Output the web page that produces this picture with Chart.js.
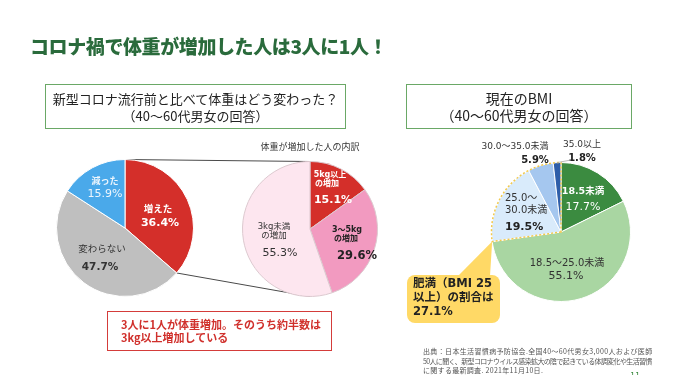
<!DOCTYPE html>
<html><head><meta charset="utf-8">
<script src="https://cdn.jsdelivr.net/npm/chart.js@4.4.1/dist/chart.umd.min.js"></script>
<style>
html,body{margin:0;padding:0;background:#fff;}
#page{position:relative;width:680px;height:375px;overflow:hidden;font-family:"Noto Sans CJK JP",sans-serif;}
.abs{position:absolute;}
canvas.abs{display:block;}
#title{left:30px;top:32px;font-size:19px;font-weight:900;color:#2a6b3c;white-space:nowrap;letter-spacing:-0.4px;}
.qbox{border:1.5px solid #6aa866;box-sizing:border-box;text-align:center;color:#222;font-size:13px;line-height:17px;padding-top:5px;}
#box1{left:45px;top:84px;width:301px;height:45px;}
#box2{left:406px;top:84px;width:226px;height:45px;font-size:14px;}
#sub2{left:230px;top:140px;width:160px;text-align:center;font-size:9px;color:#333;}
#redbox{left:107px;top:311px;width:225px;height:40px;border:1.5px solid #d43c3a;box-sizing:border-box;color:#d0302c;font-weight:bold;font-size:11px;line-height:13px;padding:6px 0 0 13px;}
#src{left:423px;top:347px;font-size:7px;line-height:9.6px;color:#555;white-space:nowrap;}
#src span{display:block;}
#pg{left:630px;top:369px;font-size:9px;color:#3a8a3f;}
</style></head>
<body><div id="page">
<canvas id="bg" class="abs" width="680" height="375" style="left:0;top:0;z-index:0"></canvas>
<div id="title" class="abs">コロナ禍で体重が増加した人は3人に1人！</div>
<div id="box1" class="abs qbox">新型コロナ流行前と比べて体重はどう変わった？<br>（40～60代男女の回答）</div>
<div id="box2" class="abs qbox">現在のBMI<br>（40～60代男女の回答）</div>
<div id="sub2" class="abs">体重が増加した人の内訳</div>
<canvas id="c1" class="abs" width="200" height="170" style="left:40px;top:140px;z-index:1"></canvas>
<canvas id="c2" class="abs" width="160" height="170" style="left:230px;top:135px;z-index:1"></canvas>
<canvas id="c3" class="abs" width="200" height="175" style="left:460px;top:135px;z-index:1"></canvas>
<canvas id="ov" class="abs" width="680" height="375" style="left:0;top:0;z-index:2;pointer-events:none"></canvas>
<div id="redbox" class="abs" style="z-index:3">3人に1人が体重増加。そのうち約半数は<br>3kg以上増加している</div>
<div id="src" class="abs"><span style="letter-spacing:0.35px">出典：日本生活習慣病予防協会.全国40～60代男女3,000人および医師</span><span style="letter-spacing:-0.65px">50人に聞く、新型コロナウイルス感染拡大の陰で起きている体調変化や生活習慣</span><span style="letter-spacing:0.3px">に関する最新調査. 2021年11月10日.</span></div>
<div id="pg" class="abs">11</div>
</div>
<script>
// ---- data ----
const changeLabels = ['増えた', '変わらない', '減った'];
const changeValues = [36.4, 47.7, 15.9];
const gainLabels = ['5kg以上\nの増加', '3～5kg\nの増加', '3kg未満\nの増加'];
const gainValues = [15.1, 29.6, 55.3];
const bmiLabels = ['18.5未満', '18.5～25.0未満', '25.0～\n30.0未満', '30.0～35.0未満', '35.0以上'];
const bmiValues = [17.7, 55.1, 19.5, 5.9, 1.8];
const obeseShare = 27.1;

// ---- styles / layout ----
const F = '"DejaVu Sans", "Noto Sans CJK JP", sans-serif';
const W = '#ffffff', D = '#222222', G = '#333333';
// per slice: list of [dx, dy, font, color, align] relative to pie centre, one per text line
const layout1 = [
  [[33, -18, 'bold 9.5px', W], [35, -5, 'bold 11px', W]],
  [[-23, 22, '9.5px', G], [-25, 39, 'bold 10.5px', G]],
  [[-20, -46, 'bold 9px', '#eef6fd'], [-20, -34, '11px', '#eef6fd']]
];
const layout2 = [
  [[20, -54, 'bold 8px', W], [17, -45, 'bold 8px', W], [23, -29, 'bold 11px', W]],
  [[37, 1, 'bold 8px', D], [36, 10, 'bold 8px', D], [47, 27, 'bold 11.5px', D]],
  [[-36, -2, '8.5px', G], [-36, 7, '8.5px', G], [-30, 24, '11px', G]]
];
const layout3 = [
  [[22, -40, 'bold 9.5px', W], [22, -25, '11px', W]],
  [[6, 31, '10px', G], [5, 44, '11px', G]],
  [[-56, -34, '10px', G, 'left'], [-56, -22, '10px', G, 'left'], [-56, -5, 'bold 11px', D, 'left']],
  [[-46, -85, '9px', G], [-26, -72, 'bold 10px', D]],
  [[21, -87, '9px', G], [21, -74, 'bold 10px', D]]
];

const labelPlugin = {
  id: 'sliceText',
  afterDatasetsDraw(chart, args, opts) {
    const ctx = chart.ctx;
    const meta = chart.getDatasetMeta(0);
    const labels = chart.data.labels;
    const vals = chart.data.datasets[0].data;
    ctx.save();
    ctx.textBaseline = 'middle';
    meta.data.forEach((arc, i) => {
      const lines = labels[i].split('\n').concat([vals[i].toFixed(1) + '%']);
      const lay = opts.layout[i];
      lines.forEach((t, j) => {
        const l = lay[j];
        ctx.font = l[2] + ' ' + F;
        ctx.fillStyle = l[3];
        ctx.textAlign = l[4] || 'center';
        ctx.fillText(t, arc.x + l[0], arc.y + l[1]);
      });
    });
    ctx.restore();
  }
};

const obesePlugin = {
  id: 'obeseOutline',
  afterDatasetsDraw(chart, args, opts) {
    if (!opts.enabled) return;
    const ctx = chart.ctx;
    const d = chart.getDatasetMeta(0).data;
    const a0 = d[2], a4 = d[4];
    const r = a0.outerRadius;
    ctx.save();
    ctx.strokeStyle = '#f2c94c';
    ctx.lineWidth = 1.5;
    ctx.setLineDash([2, 2]);
    ctx.beginPath();
    ctx.moveTo(a0.x, a0.y);
    ctx.lineTo(a0.x + r * Math.cos(a0.startAngle), a0.y + r * Math.sin(a0.startAngle));
    ctx.arc(a0.x, a0.y, r, a0.startAngle, a4.endAngle);
    ctx.closePath();
    ctx.stroke();
    // leader line for smallest slice
    ctx.setLineDash([]);
    ctx.strokeStyle = '#aaaaaa';
    ctx.lineWidth = 0.8;
    const mid = (a4.startAngle + a4.endAngle) / 2;
    ctx.beginPath();
    ctx.moveTo(a4.x + r * Math.cos(mid), a4.y + r * Math.sin(mid));
    ctx.lineTo(a4.x + 10, a4.y - 72);
    ctx.stroke();
    ctx.restore();
  }
};

function pie(id, labels, values, colors, border, pad, layout, obese) {
  return new Chart(document.getElementById(id), {
    type: 'pie',
    data: { labels: labels, datasets: [{ data: values, backgroundColor: colors, borderColor: border, borderWidth: 1 }] },
    options: {
      responsive: false, animation: false, events: [],
      layout: { padding: pad },
      plugins: { legend: { display: false }, tooltip: { enabled: false }, sliceText: { layout: layout }, obeseOutline: { enabled: !!obese } }
    },
    plugins: [labelPlugin, obesePlugin]
  });
}

const ch1 = pie('c1', changeLabels, changeValues, ['#d42f2a', '#bfbfbf', '#4aa9ea'], '#ffffff',
  { left: 16, right: 46, top: 19, bottom: 13 }, layout1, false);
const ch2 = pie('c2', gainLabels, gainValues, ['#d42f2a', '#f29ac0', '#fde6ef'], '#dcc9cf',
  { left: 12, right: 12, top: 26, bottom: 8 }, layout2, false);
const ch3 = pie('c3', bmiLabels, bmiValues, ['#3b8b40', '#a9d6a2', '#d9ebfb', '#a5c7ef', '#2e5ea9'], '#ffffff',
  { left: 31, right: 29, top: 27, bottom: 8 }, layout3, true);

// page-coordinate helper
function pagePt(chart, canvasId, angle) {
  const c = document.getElementById(canvasId);
  const a = chart.getDatasetMeta(0).data[0];
  const r = a.outerRadius;
  return [a.x + r * Math.cos(angle) + c.offsetLeft, a.y + r * Math.sin(angle) + c.offsetTop, r];
}

// connector lines from "増えた" slice to breakdown pie
(function () {
  const ctx = document.getElementById('bg').getContext('2d');
  const s = ch1.getDatasetMeta(0).data[0];
  const p1 = pagePt(ch1, 'c1', s.startAngle);
  const p2 = pagePt(ch1, 'c1', s.endAngle);
  const q1 = pagePt(ch2, 'c2', -Math.PI / 2);
  const q2 = pagePt(ch2, 'c2', Math.PI / 2);
  ctx.strokeStyle = '#4a4a4a';
  ctx.lineWidth = 1;
  ctx.beginPath();
  ctx.moveTo(p1[0], p1[1]); ctx.lineTo(q1[0], q1[1]);
  ctx.moveTo(p2[0], p2[1]); ctx.lineTo(q2[0], q2[1]);
  ctx.stroke();
})();

// callout for obesity share
(function () {
  const ctx = document.getElementById('ov').getContext('2d');
  const s = ch3.getDatasetMeta(0).data[2];
  const tip = pagePt(ch3, 'c3', s.startAngle);
  const bx = 407, by = 275, bw = 93, bh = 48, rr = 8;
  ctx.fillStyle = '#ffd966';
  ctx.beginPath();
  ctx.roundRect(bx, by, bw, bh, rr);
  ctx.fill();
  ctx.beginPath();
  ctx.moveTo(458, by + 1);
  ctx.lineTo(tip[0], tip[1]);
  ctx.lineTo(bx + bw - 10, by + 1);
  ctx.closePath();
  ctx.fill();
  ctx.fillStyle = '#222';
  ctx.font = 'bold 11.5px ' + F;
  ctx.textBaseline = 'middle';
  ctx.textAlign = 'left';
  ctx.fillText('肥満（BMI 25', bx + 6, by + 9);
  ctx.fillText('以上）の割合は', bx + 6, by + 23);
  ctx.fillText(obeseShare.toFixed(1) + '%', bx + 6, by + 37);
})();
</script>
</body></html>
